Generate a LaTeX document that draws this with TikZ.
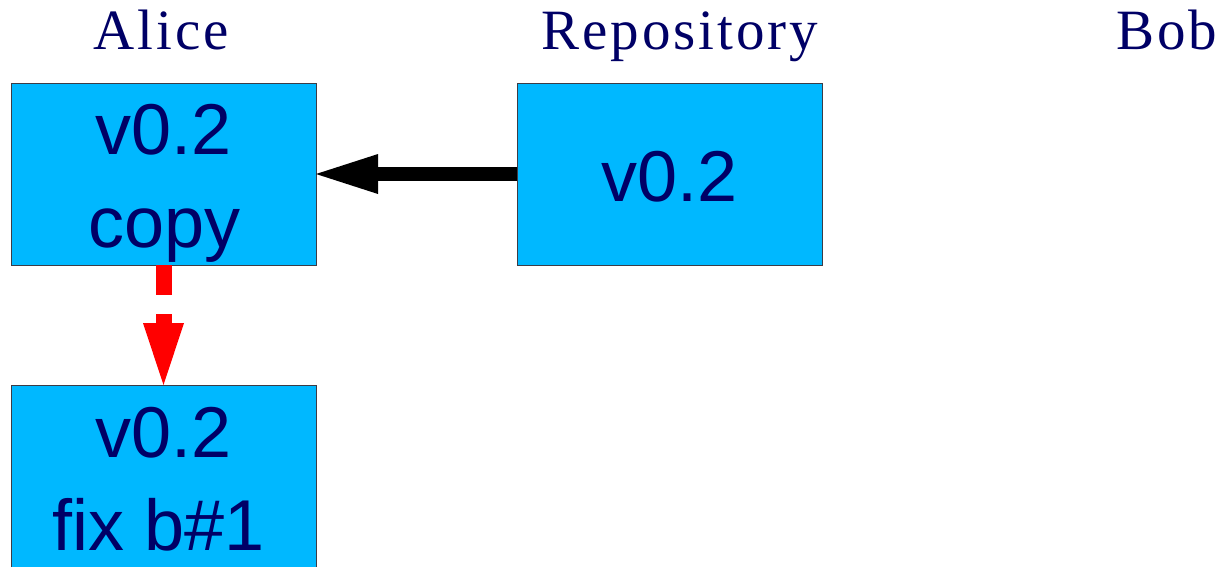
\documentclass[tikz,border=0pt]{standalone}
\usepackage{fontspec}
\usetikzlibrary{arrows.meta}
\newfontfamily\boxfont{Liberation Sans}
\newfontfamily\headfont[LetterSpace=5.2]{Liberation Serif}
\definecolor{boxblue}{RGB}{0,184,255}
\definecolor{inkblue}{RGB}{0,0,102}
\definecolor{edgegray}{RGB}{60,60,70}
\tikzset{
  version/.style={draw=edgegray, line width=1pt, fill=boxblue,
    minimum width=305pt, minimum height=182pt, inner sep=0pt, outer sep=0pt},
  boxtext/.style={anchor=base, inner sep=0pt, text=inkblue,
    font=\boxfont\fontsize{72}{93}\selectfont},
  head/.style={anchor=base, inner sep=0pt, text=inkblue,
    font=\headfont\fontsize{57}{68}\selectfont},
  fetch/.style={line width=14pt, -{Triangle[length=62pt,width=40pt,line width=0pt]}},
  change/.style={line width=16pt, red, dash pattern=on 30pt off 19pt,
    -{Triangle[length=62pt,width=41pt,line width=0pt]}}
}
\begin{document}
\begin{tikzpicture}[x=1pt,y=-1pt]
  \useasboundingbox (0,0) rectangle (1228,566);

  % column headings
  \node[head] (hAlice) at (161,49) {Alice};
  \node[head] (hRepo) at (680,49) {Repository};
  \node[head] (hBob) at (1167,49) {Bob};

  % version boxes
  \node[version] (alice) at (163.5,174) {};
  \node[boxtext] (aliceA) at (163.5,154) {v0.2};
  \node[boxtext] (aliceB) at (164.5,247) {copy};

  \node[version] (repo) at (669.5,174) {};
  \node[boxtext] (repoA) at (669.5,201) {v0.2};

  \node[version] (fix) at (163.5,476) {};
  \node[boxtext] (fixA) at (163.5,457) {v0.2};
  \node[boxtext] (fixB) at (158.5,550) {fix b\#1};

  % connectors
  \draw[fetch] (repo.west) -- (alice.east);
  \draw[change] (alice.south) -- (fix.north);
\end{tikzpicture}
\end{document}
